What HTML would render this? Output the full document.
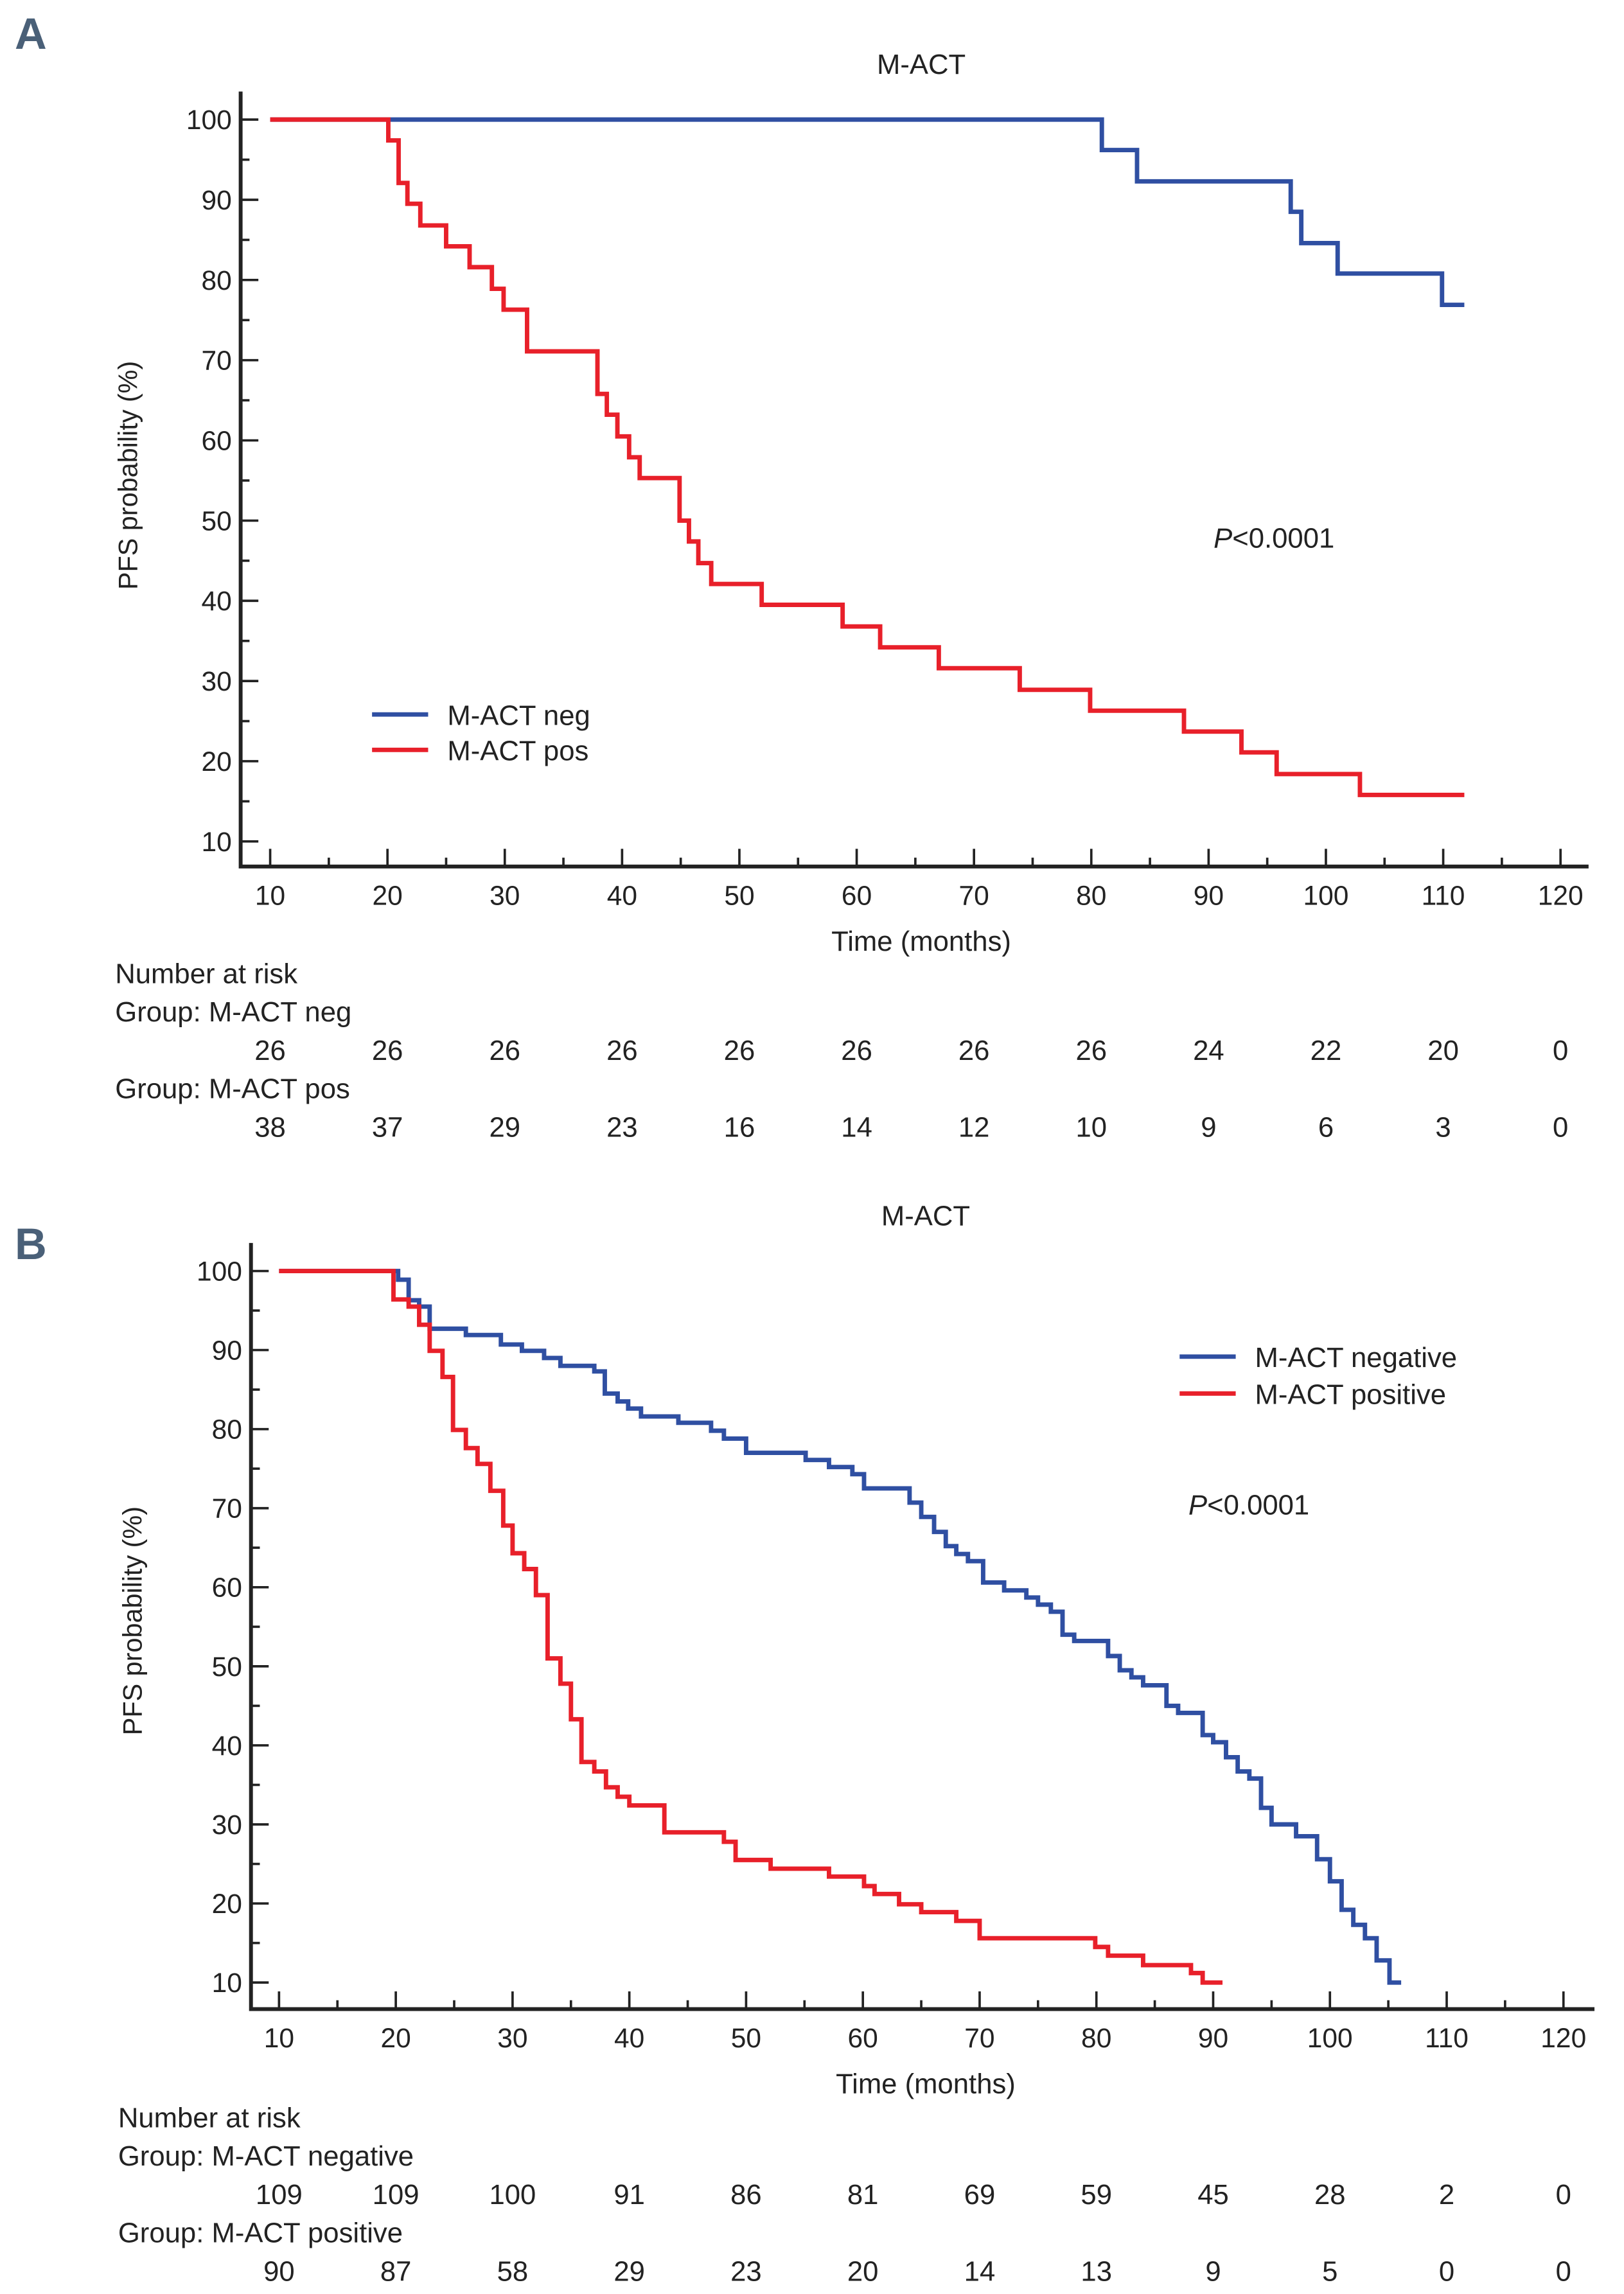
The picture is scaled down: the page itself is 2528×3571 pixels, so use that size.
<!DOCTYPE html>
<html><head><meta charset="utf-8"><style>
html,body{margin:0;padding:0;background:#fff;}
svg{display:block;}
text{font-family:"Liberation Sans",Arial,sans-serif;fill:#222;}
</style></head><body>
<svg id="fig" xmlns="http://www.w3.org/2000/svg" width="2528" height="3571" viewBox="0 0 1100 1554" preserveAspectRatio="none">
<text x="10" y="33" font-size="30" font-weight="bold" style="fill:#4a6078">A</text>
<text x="10" y="853" font-size="30" font-weight="bold" style="fill:#4a6078">B</text>
<g id="pA"></g>
<g id="pB"></g>
</svg>
<script>
// ---- Panel A data ----
const xTicks = [10,20,30,40,50,60,70,80,90,100,110,120];
const yTicks = [100,90,80,70,60,50,40,30,20,10];
const aNegT = [10,80.9,83.9,97.0,97.9,101.0,109.9,111.8];
const aNegV = [100,96.2,92.3,88.5,84.6,80.8,76.9,76.9];
const aPosT = [10,20.07,20.95,21.7,22.8,25.0,27.0,28.9,29.9,31.9,37.9,38.7,39.6,40.6,41.5,44.9,45.7,46.5,47.6,51.9,58.8,62.0,67.0,73.9,79.9,87.9,92.8,95.8,102.9,111.8];
const aPosV = [100,97.4,92.1,89.5,86.8,84.2,81.6,78.9,76.3,71.1,65.8,63.2,60.5,57.9,55.3,50.0,47.4,44.7,42.1,39.5,36.8,34.2,31.6,28.9,26.3,23.7,21.1,18.4,15.8,15.8];
const aRiskNeg = [26,26,26,26,26,26,26,26,24,22,20,0];
const aRiskPos = [38,37,29,23,16,14,12,10,9,6,3,0];
// ---- Panel B data ----
const bNegT = [10,20.2,21.1,22.0,22.9,26.0,29.0,30.8,32.7,34.1,37.0,37.9,39.0,39.9,41.0,44.2,47.0,48.1,50.0,55.1,57.1,59.1,60.1,64.0,65.0,66.1,67.1,68.0,69.0,70.3,72.1,74.0,75.0,76.1,77.1,78.1,81.0,82.0,83.0,84.0,86.0,87.0,89.1,90.0,91.1,92.1,93.1,94.1,95.0,97.1,98.9,100.0,101.0,102.0,103.0,104.0,105.1,106.1];
const bNegV = [100,98.9,96.3,95.5,92.7,91.9,90.7,89.9,89.0,88.0,87.3,84.5,83.5,82.6,81.6,80.8,79.8,78.8,77.0,76.1,75.2,74.3,72.5,70.7,68.9,67.0,65.2,64.2,63.3,60.6,59.6,58.7,57.8,56.9,54.0,53.2,51.3,49.5,48.6,47.6,45.0,44.1,41.3,40.4,38.5,36.7,35.8,32.1,30.0,28.5,25.6,22.8,19.2,17.3,15.6,12.8,10.0,10.0];
const bPosT = [10,19.8,21.1,22.0,22.9,24.0,24.9,26.0,27.0,28.1,29.2,30.0,31.0,32.0,33.0,34.1,35.0,35.9,37.0,38.0,39.0,40.0,43.0,48.1,49.1,52.1,57.1,60.1,61.0,63.1,65.0,68.0,70.0,79.9,81.0,84.0,88.1,89.1,90.8];
const bPosV = [100,96.4,95.5,93.2,89.9,86.6,79.9,77.6,75.6,72.2,67.8,64.3,62.3,59.0,51.0,47.8,43.3,37.9,36.7,34.7,33.5,32.4,29.0,27.8,25.5,24.4,23.4,22.2,21.2,19.9,18.9,17.8,15.6,14.5,13.4,12.2,11.2,10.0,10.0];
const bRiskNeg = [109,109,100,91,86,81,69,59,45,28,2,0];
const bRiskPos = [90,87,58,29,23,20,14,13,9,5,0,0];

const NS="http://www.w3.org/2000/svg";
function mk(parent,tag,attrs,txt){const e=document.createElementNS(NS,tag);for(const k in attrs)e.setAttribute(k,attrs[k]);if(txt!==undefined)e.textContent=txt;parent.appendChild(e);return e;}

function panel(g,cfg){
  const X=v=>cfg.x0+(v-10)*(cfg.x1-cfg.x0)/110;
  const Y=v=>cfg.y10+(v-10)*(cfg.y100-cfg.y10)/90;
  let t=mk(g,'text',{x:cfg.tx,y:cfg.ty,'font-size':19,'text-anchor':'middle'},'M-ACT');
  
  
  // axes
  let ax=mk(g,'path',{d:`M${cfg.ax} ${cfg.axTop} V${cfg.ay} H${cfg.axRight}`,stroke:'#222','stroke-width':2.6,fill:'none'});
  
  
  for(let v=10;v<=100;v+=5){
    const major=v%10===0;
    mk(g,'line',{x1:cfg.ax,x2:cfg.ax+(major?12:6),y1:Y(v),y2:Y(v),stroke:'#222','stroke-width':1.6});
  }
  yTicks.forEach(v=>{
    const e=mk(g,'text',{x:cfg.ax-6,y:Y(v)+6.5,'font-size':18.5,'text-anchor':'end'},String(v));
    
    
  });
  for(let v=10;v<=120;v+=5){
    const major=v%10===0;
    mk(g,'line',{x1:X(v),x2:X(v),y1:cfg.ay,y2:cfg.ay-(major?12:6),stroke:'#222','stroke-width':1.6});
  }
  xTicks.forEach(v=>{
    const e=mk(g,'text',{x:X(v),y:cfg.ay+26,'font-size':18.5,'text-anchor':'middle'},String(v));
    
    
  });
  let xt=mk(g,'text',{x:cfg.tx,y:cfg.ay+57,'font-size':19,'text-anchor':'middle'},'Time (months)');
  
  
  let yt=mk(g,'text',{x:0,y:0,'font-size':18,'text-anchor':'middle',transform:`translate(${cfg.ytx},${cfg.yty}) rotate(-90)`},'PFS probability (%)');
  
  
  // curves
  cfg.series.forEach(s=>{
    let d=`M${X(s.t[0])} ${Y(s.v[0])}`;
    for(let i=1;i<s.t.length;i++){d+=` H${X(s.t[i])} V${Y(s.v[i])}`;}
    const p=mk(g,'path',{d,stroke:s.c,'stroke-width':3,fill:'none'});
    
    
  });
  // legend
  cfg.series.forEach((s,i)=>{
    const ly=cfg.ly+i*cfg.lgap;
    const ln=mk(g,'line',{x1:cfg.lx,x2:cfg.lx+38,y1:ly,y2:ly,stroke:s.c,'stroke-width':3});
    
    
    const lt=mk(g,'text',{x:cfg.lx+51,y:ly+7,'font-size':19},s.label);
    
    
  });
  const pv=mk(g,'text',{x:cfg.px,y:cfg.py,'font-size':19});
  
  
  mk(pv,'tspan',{'font-style':'italic'},'P');
  mk(pv,'tspan',{},'<0.0001');
  // risk table
  const r=cfg.risk;
  [['Number at risk',r.y0],['Group: '+cfg.series[0].label,r.y0+26],['Group: '+cfg.series[1].label,r.y0+78]].forEach(([s,y])=>{
    const e=mk(g,'text',{x:r.x,y:y+7,'font-size':19},s);
    
    
  });
  [[cfg.riskA,r.y0+52],[cfg.riskB,r.y0+104]].forEach(([arr,y])=>{
    arr.forEach((n,i)=>{
      const e=mk(g,'text',{x:X(xTicks[i]),y:y+7,'font-size':19,'text-anchor':'middle'},String(n));
      
      
    });
  });
}
panel(document.getElementById('pA'),{x0:183,x1:1057,y100:81,y10:570,ax:163,axTop:62,ay:587,axRight:1076,tx:624,ty:50,ytx:93,yty:322,
  series:[{t:aNegT,v:aNegV,c:'#2f4fa2',label:'M-ACT neg',name:'curve-mact-neg'},{t:aPosT,v:aPosV,c:'#e8202a',label:'M-ACT pos',name:'curve-mact-pos'}],
  lx:252,ly:484,lgap:24,px:822,py:371,risk:{x:78,y0:659},riskA:aRiskNeg,riskB:aRiskPos});
panel(document.getElementById('pB'),{x0:189,x1:1059,y100:861,y10:1343,ax:170,axTop:842,ay:1361,axRight:1080,tx:627,ty:830,ytx:96,yty:1098,
  series:[{t:bNegT,v:bNegV,c:'#2f4fa2',label:'M-ACT negative',name:'curve-mact-negative'},{t:bPosT,v:bPosV,c:'#e8202a',label:'M-ACT positive',name:'curve-mact-positive'}],
  lx:799,ly:919,lgap:25,px:805,py:1026,risk:{x:80,y0:1434},riskA:bRiskNeg,riskB:bRiskPos});
</script>
</body></html>
